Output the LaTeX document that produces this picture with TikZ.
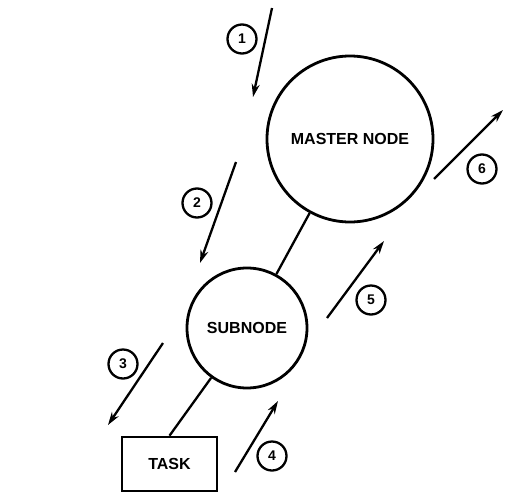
\documentclass[tikz,border=0pt]{standalone}
\usepackage{fontspec}
\setmainfont{Liberation Sans}
\usetikzlibrary{arrows.meta}
\begin{document}
\begin{tikzpicture}[x=1pt,y=-1pt,
  bignode/.style={draw,circle,line width=2.8pt,inner sep=0pt,font=\fontsize{16}{18}\selectfont\bfseries},
  taskbox/.style={draw,rectangle,line width=2.6pt,inner sep=0pt,font=\fontsize{16}{18}\selectfont\bfseries},
  link/.style={line width=2.3pt},
  flow/.style={line width=2.3pt,-{Stealth[length=13pt,width=8pt]}},
  stepno/.style={draw,circle,line width=2.3pt,minimum size=29pt,inner sep=0pt,font=\fontsize{14}{16}\selectfont\bfseries}]
  \useasboundingbox (0,0) rectangle (506,493);
  % main nodes
  \node[bignode,minimum size=166pt] (master) at (350,139) {MASTER NODE};
  \node[bignode,minimum size=120pt] (sub) at (247,328) {SUBNODE};
  \node[taskbox,minimum width=95pt,minimum height=54pt] (task) at (169.5,464) {TASK};
  % connections between nodes
  \draw[link] (sub) -- (master);
  \draw[link] (task.north) -- (sub);
  % numbered message steps
  \coordinate (a1) at (272,8);   \coordinate (b1) at (253,97);
  \coordinate (a2) at (236,162); \coordinate (b2) at (200,263);
  \coordinate (a3) at (163,343); \coordinate (b3) at (108,425);
  \coordinate (a4) at (235,472); \coordinate (b4) at (278,401);
  \coordinate (a5) at (327,318); \coordinate (b5) at (384,241);
  \coordinate (a6) at (434,179); \coordinate (b6) at (503,110);
  \draw[flow] (a1) -- (b1);
  \draw[flow] (a2) -- (b2);
  \draw[flow] (a3) -- (b3);
  \draw[flow] (a4) -- (b4);
  \draw[flow] (a5) -- (b5);
  \draw[flow] (a6) -- (b6);
  \node[stepno] (n1) at (242,39) {1};
  \node[stepno] (n2) at (197,203) {2};
  \node[stepno] (n3) at (123,364) {3};
  \node[stepno] (n4) at (272,456) {4};
  \node[stepno] (n5) at (371,300) {5};
  \node[stepno] (n6) at (482,169) {6};
\end{tikzpicture}
\end{document}
